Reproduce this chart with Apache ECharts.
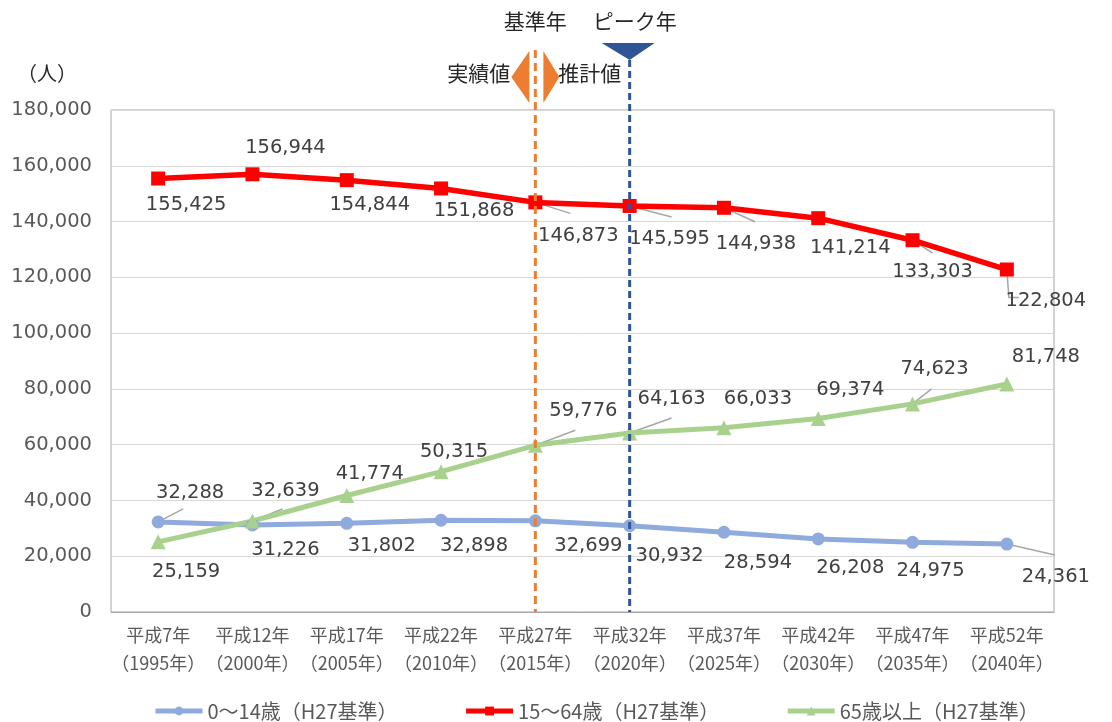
<!DOCTYPE html>
<html><head><meta charset="utf-8">
<script src="https://cdn.jsdelivr.net/npm/echarts@6/dist/echarts.min.js"></script>
<style>html,body{margin:0;padding:0;background:#fff;}#c{width:1112px;height:722px;}</style>
</head><body><div id="c"></div>
<script>
const categories = ['平成7年\n（1995年）','平成12年\n（2000年）','平成17年\n（2005年）','平成22年\n（2010年）','平成27年\n（2015年）','平成32年\n（2020年）','平成37年\n（2025年）','平成42年\n（2030年）','平成47年\n（2035年）','平成52年\n（2040年）'];
const seriesNames = ['0～14歳（H27基準）','15～64歳（H27基準）','65歳以上（H27基準）'];
const youth   = [32288, 31226, 31802, 32898, 32699, 30932, 28594, 26208, 24975, 24361];
const working = [155425, 156944, 154844, 151868, 146873, 145595, 144938, 141214, 133303, 122804];
const elderly = [25159, 32639, 41774, 50315, 59776, 64163, 66033, 69374, 74623, 81748];
const yMin = 0, yMax = 180000, yStep = 20000;
const baseYearIndex = 4, peakYearIndex = 5;
const annoTexts = {base:'基準年', peak:'ピーク年', actual:'実績値', est:'推計値', unit:'（人）'};

// label offsets (px) from each point
const offYouth   = [[32,-29],[33,25],[35,23],[33,26],[53,25],[40,30],[34,31],[32,29],[18,29],[49,33]];
const offWorking = [[28,26],[33,-26],[23,25],[33,22],[43,34],[40,33],[32,36],[32,30],[20,32],[39,31]];
const offElderly = [[28,30],[33,-30],[23,-22],[13,-20],[48,-34],[42,-34],[34,-29],[32,-29],[22,-35],[39,-27]];
const offsets = [offYouth, offWorking, offElderly];
// leader lines: [seriesIndex, dataIndex, list of offset points from the data point]
const leaders = [
  [0,0,[[25,-13]]],[0,9,[[48,11]]],
  [1,4,[[35,11]]],[1,5,[[42,11]]],[1,6,[[31,14]]],[1,8,[[20,13]]],[1,9,[[2,28],[12,28]]],
  [2,1,[[30,-12]]],[2,4,[[40,-15]]],[2,5,[[42,-15]]],[2,8,[[19,-15]]]
];

const fmt = v => Number(v).toLocaleString('en-US');
const labelStyle = {show:true, position:'inside', formatter: p=>fmt(p.value), fontFamily:'DejaVu Sans', fontSize:19.5, color:'#404040'};

const chart = echarts.init(document.getElementById('c'));
const colors = ['#8faadc','#ff0000','#a9d18e'];
const allData = [youth, working, elderly];
chart.setOption({
  animation:false,
  color: colors,
  grid:{left:111, right:58, top:110, bottom:110, show:true, borderColor:'#a6a6a6', borderWidth:1, containLabel:false},
  legend:{
    left:153, bottom:1, padding:0, itemWidth:47, itemHeight:11, itemGap:66,
    lineStyle:{width:5},
    textStyle:{fontFamily:'Noto Sans CJK JP', fontSize:20, color:'#595959'},
    data: seriesNames
  },
  xAxis:{
    type:'category', data:categories, boundaryGap:true,
    axisTick:{show:false},
    axisLine:{lineStyle:{color:'#a6a6a6'}},
    axisLabel:{fontFamily:'Noto Sans CJK JP', fontSize:18, color:'#595959', lineHeight:28, margin:9, interval:0}
  },
  yAxis:{
    type:'value', min:yMin, max:yMax, interval:yStep,
    axisLine:{show:false}, axisTick:{show:false},
    splitLine:{lineStyle:{color:'#d9d9d9', width:1}},
    axisLabel:{formatter: v=>fmt(v), fontFamily:'DejaVu Sans', fontSize:19.5, color:'#595959', margin:19}
  },
  labelLayout: function(p){
    const o = offsets[p.seriesIndex][p.dataIndex];
    return {dx:o[0], dy:o[1]};
  },
  series:[
    {name:seriesNames[0], type:'line', data:youth, symbol:'circle', symbolSize:13,
     lineStyle:{width:5}, label:labelStyle, z:3},
    {name:seriesNames[1], type:'line', data:working, symbol:'rect', symbolSize:14,
     lineStyle:{width:5.5}, label:labelStyle, z:3},
    {name:seriesNames[2], type:'line', data:elderly, symbol:'triangle', symbolSize:15,
     lineStyle:{width:5}, label:labelStyle, z:3}
  ]
});

const xb = chart.convertToPixel({xAxisIndex:0}, baseYearIndex);
const xp = chart.convertToPixel({xAxisIndex:0}, peakYearIndex);
const yb = chart.convertToPixel({yAxisIndex:0}, yMin);
const yt = chart.convertToPixel({yAxisIndex:0}, yMax);
const orange = '#ed7d31', navy = '#2f5597';
const tStyle = {fontFamily:'Noto Sans CJK JP', fontSize:21, fill:'#262626'};
const graphics = [];
leaders.forEach(([s,i,pts])=>{
  const p = chart.convertToPixel({gridIndex:0}, [i, allData[s][i]]);
  const points = [p].concat(pts.map(o=>[p[0]+o[0], p[1]+o[1]]));
  graphics.push({type:'polyline', shape:{points:points}, style:{stroke:'#a6a6a6', lineWidth:1.5, fill:null}, z:2});
});
graphics.push(
  {type:'line', shape:{x1:xb, y1:yt-60, x2:xb, y2:yb}, style:{stroke:orange, lineWidth:3, lineDash:[8,5]}, z:10},
  {type:'line', shape:{x1:xp, y1:yt-50, x2:xp, y2:yb}, style:{stroke:navy, lineWidth:3, lineDash:[7,4]}, z:10},
  {type:'polygon', shape:{points:[[xb-6,yt-59],[xb-24,yt-33],[xb-6,yt-7]]}, style:{fill:orange}, z:10},
  {type:'polygon', shape:{points:[[xb+8,yt-59],[xb+24,yt-33],[xb+8,yt-7]]}, style:{fill:orange}, z:10},
  {type:'polygon', shape:{points:[[xp-28,yt-67],[xp+25,yt-67],[xp,yt-50]]}, style:{fill:navy}, z:10},
  {type:'text', x:xb, y:21, style:Object.assign({text:annoTexts.base, align:'center', verticalAlign:'middle'}, tStyle), z:10},
  {type:'text', x:xp+5, y:21, style:Object.assign({text:annoTexts.peak, align:'center', verticalAlign:'middle'}, tStyle), z:10},
  {type:'text', x:xb-25, y:yt-37, style:Object.assign({text:annoTexts.actual, align:'right', verticalAlign:'middle'}, tStyle), z:10},
  {type:'text', x:xb+23, y:yt-37, style:Object.assign({text:annoTexts.est, align:'left', verticalAlign:'middle'}, tStyle), z:10},
  {type:'text', x:47, y:yt-37, style:Object.assign({text:annoTexts.unit, align:'center', verticalAlign:'middle'}, tStyle, {fontSize:20}), z:10}
);
chart.setOption({graphic:graphics});
</script></body></html>
